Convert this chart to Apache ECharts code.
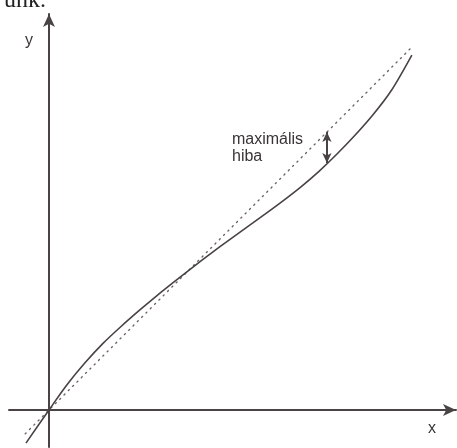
<!DOCTYPE html>
<html>
<head>
<meta charset="utf-8">
<script src="https://cdn.jsdelivr.net/npm/echarts@6/dist/echarts.min.js"></script>
<style>
  html, body { margin: 0; padding: 0; background: #fff; }
  #chart { width: 457px; height: 448px; }
</style>
</head>
<body>
<div id="chart"></div>
<script>
// Approximating curve f(x), sampled points [x, y]
const curveX = [-0.064, 0.0, 0.05, 0.1, 0.15, 0.2, 0.25, 0.3, 0.35, 0.4, 0.45, 0.5, 0.55, 0.6, 0.65, 0.7, 0.75, 0.8, 0.85, 0.9, 0.95, 1.008];
const curveY = [-0.092, 0.0, 0.070, 0.131, 0.185, 0.232, 0.276, 0.318, 0.358, 0.397, 0.435, 0.472, 0.508, 0.544, 0.581, 0.620, 0.663, 0.711, 0.763, 0.820, 0.886, 0.986];
// Reference line y = x (end points)
const refX = [-0.066, 1.006];
const refY = [-0.066, 1.006];
// Largest deviation between the two lines
const maxErrX = 0.772;
const maxErrLow = 0.686;
const maxErrHigh = 0.772;
const errLabel = 'maximális\nhiba';
const axisNames = { x: 'x', y: 'y' };

const ink = '#4a4343';
const chart = echarts.init(document.getElementById('chart'), null, { renderer: 'canvas' });

const axisCommon = {
  type: 'value',
  axisLine: {
    show: true, onZero: true,
    symbol: ['none', 'arrow'], symbolSize: [9, 13],
    lineStyle: { color: ink, width: 2 }
  },
  axisTick: { show: false },
  axisLabel: { show: false },
  splitLine: { show: false }
};

chart.setOption({
  animation: false,
  grid: { left: 9, right: 1, top: 14, bottom: 1 },
  xAxis: Object.assign({}, axisCommon, { min: -0.1111, max: 1.1306 }),
  yAxis: Object.assign({}, axisCommon, { min: -0.1028, max: 1.1 }),
  series: [
    {
      type: 'line',
      data: refX.map((x, i) => [x, refY[i]]),
      showSymbol: false,
      lineStyle: { color: '#6a6464', width: 1.4, type: [1.2, 4.9], cap: 'round' }
    },
    {
      type: 'line',
      data: curveX.map((x, i) => [x, curveY[i]]),
      smooth: 0.3,
      showSymbol: false,
      lineStyle: { color: ink, width: 1.6 },
      markLine: {
        silent: true,
        symbol: ['arrow', 'arrow'],
        symbolSize: [7, 10],
        label: { show: false },
        lineStyle: { color: ink, width: 2, type: 'solid' },
        data: [[{ coord: [maxErrX, maxErrLow] }, { coord: [maxErrX, maxErrHigh] }]]
      }
    }
  ],
  graphic: [
    {
      type: 'text', left: 25, top: 33,
      style: { text: axisNames.y, font: '16px "Liberation Sans", Arial, sans-serif', fill: '#3a3535' }
    },
    {
      type: 'text', left: 428, top: 421,
      style: { text: axisNames.x, font: '16px "Liberation Sans", Arial, sans-serif', fill: '#3a3535' }
    },
    {
      type: 'text', left: 232, top: 131,
      style: { text: errLabel, font: '16px "Liberation Sans", Arial, sans-serif', fill: '#3a3535', lineHeight: 17 }
    },
    {
      type: 'text', x: 46, y: 13,
      style: { text: 'unk.', font: '24px "Liberation Serif", "Times New Roman", serif', fill: '#222', align: 'right', verticalAlign: 'bottom' }
    }
  ]
});
</script>
</body>
</html>
